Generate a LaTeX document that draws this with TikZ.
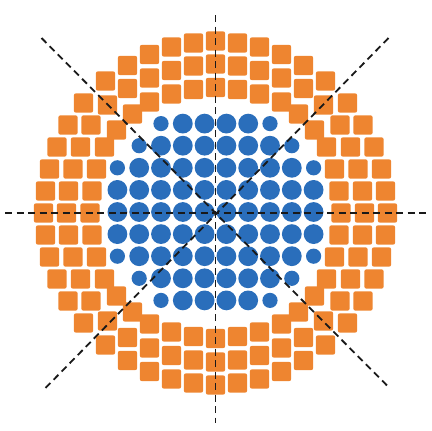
\documentclass[tikz,border=0pt]{standalone}
\definecolor{sqor}{HTML}{EE8530}
\definecolor{cblue}{HTML}{2A6EBB}
\tikzset{
  sq/.style={fill=sqor, rounded corners=2.2pt},
  dot/.style={fill=cblue},
  dashln/.style={draw=black!90, line width=1.8pt, dash pattern=on 7pt off 4.5pt}
}
\newcommand{\sqat}[2]{\fill[sq] ({#1-9.7},{#2-9.7}) rectangle ++(19.4,19.4);}
\begin{document}
\begin{tikzpicture}[x=1pt,y=-1pt]
\useasboundingbox (0,0) rectangle (432,431);
\def\cx{215.5}
\def\cy{213}
% orange squares, off-axis (8-fold symmetric)
\foreach \a/\b in {22/170,44/166,66/158.5,88/147.5,110/132,
                   22/147,44/142.5,66/135,88/124.5,
                   22/123.5,44/119,66/111,83/99}{
  \foreach \sx in {1,-1}{
    \foreach \sy in {1,-1}{
      \sqat{\cx+\sx*\a}{\cy-\sy*\b}
      \sqat{\cx+\sx*\b}{\cy-\sy*\a}
    }
  }
}
% on-axis squares
\foreach \b in {172,149,125.5}{
  \sqat{\cx}{\cy-\b}
  \sqat{\cx}{\cy+\b}
  \sqat{\cx+\b}{\cy}
  \sqat{\cx-\b}{\cy}
}
% diagonal squares
\foreach \sx in {1,-1}{
  \foreach \sy in {1,-1}{
    \sqat{\cx+\sx*108}{\cy+\sy*108}
  }
}
% blue circles
\foreach \j/\nb/\ns in {0/4.5/0, 1/4.5/0, -1/4.5/0, 2/3.5/4.5, -2/3.5/4.5, 3/2.5/3.5, -3/2.5/3.5, 4/1.5/2.5, -4/1.5/2.5}{
  \foreach \i in {0.5,1.5,2.5,3.5,4.5}{
    \pgfmathsetmacro{\yy}{212+\j*22.1}
    \ifdim \i pt<\nb pt
      \fill[dot] ({\cx+\i*21.8},\yy) circle (9.9);
      \fill[dot] ({\cx-\i*21.8},\yy) circle (9.9);
    \else\ifdim \i pt=\nb pt
      \fill[dot] ({\cx+\i*21.8},\yy) circle (9.9);
      \fill[dot] ({\cx-\i*21.8},\yy) circle (9.9);
    \else\ifdim \i pt=\ns pt
      \fill[dot] ({\cx+\i*21.8},\yy) circle (7.6);
      \fill[dot] ({\cx-\i*21.8},\yy) circle (7.6);
    \fi\fi\fi
  }
}
% dashed guide lines
\coordinate (vt) at (\cx,15);
\coordinate (vb) at (\cx,423);
\coordinate (hl) at (5,\cy);
\coordinate (hr) at (428,\cy);
\coordinate (nw) at (\cx-174,\cy-175);
\coordinate (se) at (\cx+174,\cy+175);
\coordinate (ne) at (\cx+173,\cy-175);
\coordinate (sw) at (\cx-171,\cy+176);
\draw[dashln] (vt) -- (vb);
\draw[dashln] (hl) -- (hr);
\draw[dashln] (nw) -- (se);
\draw[dashln] (ne) -- (sw);
\end{tikzpicture}
\end{document}
